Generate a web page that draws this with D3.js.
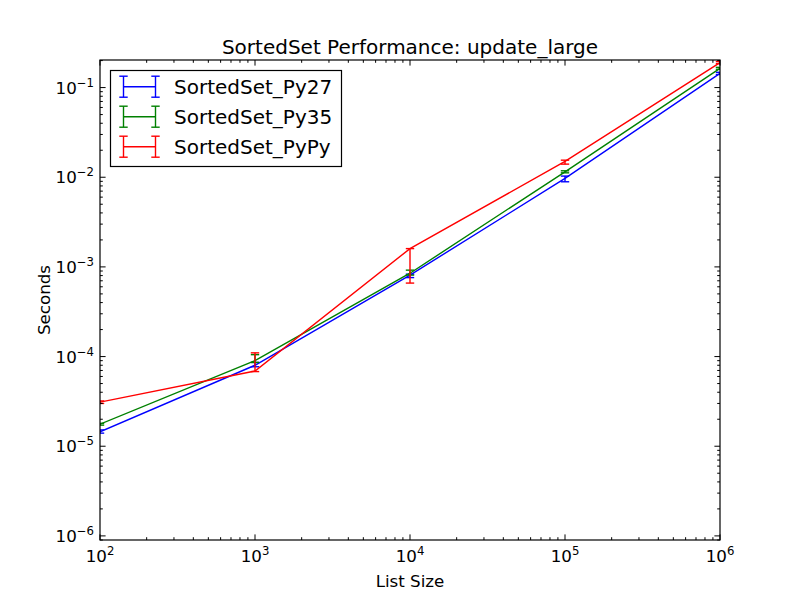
<!DOCTYPE html>
<html><head><meta charset="utf-8">
<script src="https://cdn.jsdelivr.net/npm/d3@7"></script>
<style>body{margin:0;background:#fff}svg{display:block;font-family:"DejaVu Sans",sans-serif}</style>
</head><body>
<svg id="c" width="800" height="600"></svg>
<script>
const sizes = [1e2, 1e3, 1e4, 1e5, 1e6];
const py27 = [1.45e-5, 8.0e-5, 8.1e-4, 9.7e-3, 0.144];
const py27Lo = [1.40e-5, 7.7e-5, 7.6e-4, 8.9e-3, 0.140];
const py27Hi = [1.52e-5, 8.6e-5, 8.3e-4, 1.03e-2, 0.148];
const py35 = [1.76e-5, 9.0e-5, 8.5e-4, 1.15e-2, 0.164];
const py35Lo = [1.72e-5, 8.6e-5, 8.1e-4, 1.12e-2, 0.160];
const py35Hi = [1.80e-5, 1.05e-4, 9.2e-4, 1.18e-2, 0.168];
const pypy = [3.1e-5, 6.9e-5, 1.6e-3, 1.5e-2, 0.19];
const pypyLo = [3.0e-5, 6.8e-5, 6.6e-4, 1.40e-2, 0.185];
const pypyHi = [3.2e-5, 1.1e-4, 1.6e-3, 1.55e-2, 0.195];
const seriesNames = ["SortedSet_Py27", "SortedSet_Py35", "SortedSet_PyPy"];
const seriesColors = ["#0000ff", "#008000", "#ff0000"];
const xTickExps = [2, 3, 4, 5, 6];
const yTickExps = [-6, -5, -4, -3, -2, -1];
const titleText = "SortedSet Performance: update_large";
const xLabel = "List Size", yLabel = "Seconds";

const series = [
  {name: seriesNames[0], color: seriesColors[0], v: py27, lo: py27Lo, hi: py27Hi},
  {name: seriesNames[1], color: seriesColors[1], v: py35, lo: py35Lo, hi: py35Hi},
  {name: seriesNames[2], color: seriesColors[2], v: pypy, lo: pypyLo, hi: pypyHi}
];

const L = 100, R = 720, T = 60, B = 540;
const svg = d3.select("#c");
const x = d3.scaleLog().domain([1e2, 1e6]).range([L, R]);
const y = d3.scaleLog().domain([9.0e-7, 0.203]).range([B, T]);

svg.append("defs").append("clipPath").attr("id", "clip")
  .append("rect").attr("x", L).attr("y", T).attr("width", R - L).attr("height", B - T);

const plot = svg.append("g").attr("clip-path", "url(#clip)");
const line = d3.line().x(d => x(d[0])).y(d => y(d[1]));
const cap = 4.2;
series.forEach(s => {
  const g = plot.append("g");
  const pts = sizes.map((sz, i) => [sz, s.v[i]]);
  g.append("path").attr("d", line(pts)).attr("fill", "none")
    .attr("stroke", s.color).attr("stroke-width", 1.4);
  sizes.forEach((sz, i) => {
    const cx = x(sz), y1 = y(s.lo[i]), y2 = y(s.hi[i]);
    g.append("line").attr("x1", cx).attr("x2", cx).attr("y1", y1).attr("y2", y2)
      .attr("stroke", s.color).attr("stroke-width", 1.4);
    [y1, y2].forEach(yy => g.append("line").attr("x1", cx - cap).attr("x2", cx + cap)
      .attr("y1", yy).attr("y2", yy).attr("stroke", s.color).attr("stroke-width", 1.4));
  });
});

// frame
svg.append("rect").attr("x", L).attr("y", T).attr("width", R - L).attr("height", B - T)
  .attr("fill", "none").attr("stroke", "#000").attr("stroke-width", 1.2);

// ticks
const tg = svg.append("g").attr("stroke", "#000").attr("stroke-width", 1);
const majL = 5.6, minL = 2.8;
function minorTicks(scale) {
  const [a, b] = scale.domain();
  const out = [];
  for (let e = Math.floor(Math.log10(a)); e <= Math.ceil(Math.log10(b)); e++) {
    for (let m = 1; m < 10; m++) {
      const v = m * Math.pow(10, e);
      if (v >= a * 0.9999 && v <= b * 1.0001) out.push({v, major: m === 1});
    }
  }
  return out;
}
minorTicks(x).forEach(t => {
  const px = x(t.v), len = t.major ? majL : minL;
  tg.append("line").attr("x1", px).attr("x2", px).attr("y1", B).attr("y2", B - len);
  tg.append("line").attr("x1", px).attr("x2", px).attr("y1", T).attr("y2", T + len);
});
minorTicks(y).forEach(t => {
  const py = y(t.v), len = t.major ? majL : minL;
  tg.append("line").attr("y1", py).attr("y2", py).attr("x1", L).attr("x2", L + len);
  tg.append("line").attr("y1", py).attr("y2", py).attr("x1", R).attr("x2", R - len);
});

// tick labels
const fs = 16.7;
xTickExps.forEach(e => {
  const t = svg.append("text").attr("x", x(Math.pow(10, e))).attr("y", 562)
    .attr("text-anchor", "middle").attr("font-size", fs).attr("fill", "#000");
  t.append("tspan").text("10");
  t.append("tspan").attr("dy", -7).attr("font-size", fs * 0.7).text(String(e).replace("-", "\u2212"));
});
yTickExps.forEach(e => {
  const t = svg.append("text").attr("x", 94).attr("y", y(Math.pow(10, e)) + 6)
    .attr("text-anchor", "end").attr("font-size", fs).attr("fill", "#000");
  t.append("tspan").text("10");
  t.append("tspan").attr("dy", -7).attr("font-size", fs * 0.7).text(String(e).replace("-", "\u2212"));
});

// titles
svg.append("text").attr("x", (L + R) / 2).attr("y", 54).attr("text-anchor", "middle")
  .attr("font-size", 20).text(titleText);
svg.append("text").attr("x", (L + R) / 2).attr("y", 587).attr("text-anchor", "middle")
  .attr("font-size", fs).text(xLabel);
svg.append("text").attr("transform", `translate(50,${(T + B) / 2}) rotate(-90)`)
  .attr("text-anchor", "middle").attr("font-size", fs).text(yLabel);

// legend
const lg = svg.append("g");
lg.append("rect").attr("x", 110.5).attr("y", 70.5).attr("width", 231).attr("height", 96)
  .attr("fill", "#fff").attr("stroke", "#000").attr("stroke-width", 1.2);
series.forEach((s, i) => {
  const cy = 86.7 + i * 30;
  const g = lg.append("g").attr("stroke", s.color).attr("stroke-width", 1.4);
  g.append("line").attr("x1", 123.5).attr("x2", 155.5).attr("y1", cy).attr("y2", cy);
  [123.5, 155.5].forEach(cx => {
    g.append("line").attr("x1", cx).attr("x2", cx).attr("y1", cy - 10.5).attr("y2", cy + 10.5);
    [cy - 10.5, cy + 10.5].forEach(yy => g.append("line").attr("x1", cx - cap).attr("x2", cx + cap)
      .attr("y1", yy).attr("y2", yy));
  });
  lg.append("text").attr("x", 174).attr("y", cy + 7).attr("font-size", 20).attr("fill", "#000").text(s.name);
});
</script>
</body></html>
